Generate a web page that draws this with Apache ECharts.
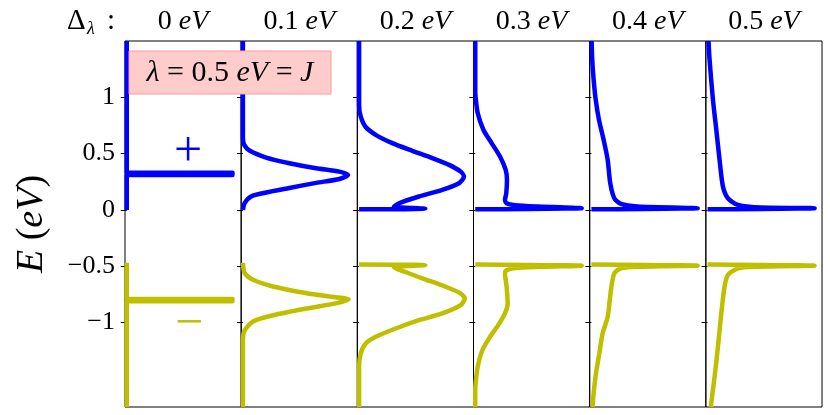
<!DOCTYPE html>
<html lang="en">
<head>
    <meta charset="UTF-8">
    <script src="https://cdn.jsdelivr.net/npm/echarts@6/dist/echarts.min.js"></script>
    <title>DOS vs Delta</title>
</head>
<body style="margin:0">
    <div id="main" style="width:830px;height:415px;"></div>
    <script>
        // panel titles (Delta_lambda in eV) and energy ticks
        var deltas = ['0', '0.1', '0.2', '0.3', '0.4', '0.5'];
        var yTicks = [-1, -0.5, 0, 0.5, 1];

        // points are [density, E]; upper band (blue) and lower band (yellow), one per panel
        var upper0 = [[0, 1.5], [0, 0.33], [0.91, 0.33], [0.91, 0.31], [0, 0.31], [0, 0]];
        var lower0 = [[0, -0.47], [0, -0.79], [0.91, -0.79], [0.91, -0.81], [0, -0.81], [0, -1.75]];

        var upper1 = [[0, 1.5], [0, 0.64], [0.01, 0.58], [0.06, 0.525], [0.2, 0.465], [0.4, 0.415], [0.63, 0.37], [0.83, 0.34],
            [0.905, 0.31], [0.83, 0.275], [0.63, 0.24], [0.4, 0.195], [0.2, 0.155], [0.07, 0.12], [0.015, 0.06], [0, 0]];
        var lower1 = [[0, -0.47], [0.015, -0.56], [0.087, -0.62], [0.26, -0.68], [0.55, -0.74], [0.8, -0.775], [0.91, -0.795],
            [0.8, -0.83], [0.55, -0.875], [0.26, -0.935], [0.087, -0.99], [0.015, -1.07], [0, -1.16], [0, -1.75]];

        var upper2 = [[0, 1.5], [0, 0.93], [0.014, 0.83], [0.057, 0.736], [0.143, 0.667], [0.286, 0.593], [0.458, 0.525],
            [0.63, 0.46], [0.774, 0.4], [0.874, 0.341], [0.903, 0.296], [0.86, 0.237], [0.716, 0.178], [0.516, 0.119],
            [0.344, 0.059], [0.3, 0.03], [0.57, 0.012], [0, 0.005]];
        var lower2 = [[0, -0.485], [0.57, -0.49], [0.3, -0.51], [0.42, -0.56], [0.545, -0.608], [0.745, -0.682], [0.874, -0.741],
            [0.91, -0.786], [0.874, -0.845], [0.716, -0.919], [0.516, -0.979], [0.315, -1.053], [0.143, -1.127],
            [0.057, -1.186], [0.014, -1.275], [0, -1.39], [0, -1.75]];

        var upper3 = [[0, 1.5], [0, 1.05], [0.003, 1.0], [0.021, 0.86], [0.07, 0.712], [0.141, 0.593], [0.213, 0.474],
            [0.262, 0.356], [0.273, 0.267], [0.267, 0.148], [0.256, 0.089], [0.27, 0.059], [0.342, 0.042], [0.543, 0.03],
            [0.916, 0.015], [0, 0.005]];
        var lower3 = [[0, -0.485], [0.916, -0.495], [0.543, -0.505], [0.342, -0.515], [0.27, -0.535], [0.256, -0.563],
            [0.27, -0.682], [0.279, -0.83], [0.256, -0.919], [0.198, -1.023], [0.127, -1.127], [0.061, -1.246],
            [0.021, -1.394], [0.003, -1.542], [0, -1.6], [0, -1.75]];

        var upper4 = [[0.002, 1.5], [0.007, 1.334], [0.019, 1.157], [0.037, 0.979], [0.065, 0.8], [0.105, 0.623], [0.14, 0.445],
            [0.162, 0.237], [0.197, 0.104], [0.254, 0.053], [0.398, 0.03], [0.914, 0.015], [0, 0.005]];
        var lower4 = [[0, -0.485], [0.914, -0.495], [0.4, -0.505], [0.254, -0.519], [0.197, -0.563], [0.168, -0.712],
            [0.14, -0.949], [0.096, -1.097], [0.068, -1.275], [0.039, -1.453], [0.019, -1.631], [0.01, -1.75]];

        var upper5 = [[0.008, 1.5], [0.017, 1.334], [0.046, 0.979], [0.075, 0.712], [0.103, 0.445], [0.132, 0.208],
            [0.175, 0.104], [0.261, 0.044], [0.404, 0.024], [0.921, 0.015], [0, 0.005]];
        var lower5 = [[0, -0.485], [0.92, -0.495], [0.404, -0.505], [0.261, -0.519], [0.175, -0.578], [0.146, -0.682],
            [0.118, -0.919], [0.089, -1.216], [0.06, -1.483], [0.031, -1.72], [0.028, -1.75]];

        var uppers = [upper0, upper1, upper2, upper3, upper4, upper5];
        var lowers = [lower0, lower1, lower2, lower3, lower4, lower5];

        var serif = 'Liberation Serif';
        var left0 = 125, panelW = 116.17, top0 = 41, panelH = 366;

        var grids = [], xAxes = [], yAxes = [], series = [], graphics = [];
        for (var i = 0; i < 6; i++) {
            grids.push({
                left: left0 + i * panelW, top: top0, width: panelW, height: panelH,
                show: true, borderColor: '#000', borderWidth: 1, backgroundColor: 'transparent'
            });
            xAxes.push({
                gridIndex: i, type: 'value', min: -0.015, max: 0.985,
                axisLine: { show: false }, axisTick: { show: false }, axisLabel: { show: false }, splitLine: { show: false }
            });
            yAxes.push({
                gridIndex: i, type: 'value', min: -1.75, max: 1.5,
                axisLine: { show: false },
                axisTick: { show: true, inside: false, length: 6, customValues: yTicks, lineStyle: { color: '#000', width: 1 } },
                axisLabel: {
                    show: i === 0, customValues: yTicks, margin: 10, color: '#000', fontFamily: serif, fontSize: 26,
                    formatter: function (v) { return String(v).replace('-', '\u2212'); }
                },
                splitLine: { show: false },
                name: i === 0 ? '{e|E}{n| (}{e|eV}{n|)}' : '',
                nameLocation: 'middle', nameRotate: 90, nameGap: 74,
                nameTextStyle: {
                    fontFamily: serif, fontSize: 38, color: '#000',
                    rich: {
                        e: { fontFamily: serif, fontSize: 38, fontStyle: 'italic', color: '#000' },
                        n: { fontFamily: serif, fontSize: 38, color: '#000' }
                    }
                }
            });
            var smooth = i === 0 ? false : 0.25;
            series.push({
                type: 'line', xAxisIndex: i, yAxisIndex: i, data: uppers[i], showSymbol: false, clip: true, smooth: smooth,
                lineStyle: { color: '#0000ff', width: 4.5, cap: 'butt', join: 'round' }, itemStyle: { color: '#0000ff' }
            });
            series.push({
                type: 'line', xAxisIndex: i, yAxisIndex: i, data: lowers[i], showSymbol: false, clip: true, smooth: smooth,
                lineStyle: { color: '#bfbf00', width: 4.5, cap: 'butt', join: 'round' }, itemStyle: { color: '#bfbf00' }
            });
            graphics.push({
                type: 'text', x: left0 + (i + 0.5) * panelW, y: 22,
                style: {
                    text: '{n|' + deltas[i] + ' }{e|eV}', align: 'center', verticalAlign: 'middle',
                    rich: {
                        n: { fontFamily: serif, fontSize: 28, fill: '#000' },
                        e: { fontFamily: serif, fontSize: 28, fontStyle: 'italic', fill: '#000' }
                    }
                }
            });
        }

        // Delta_lambda :
        graphics.push({ type: 'text', x: 67, y: 7, style: { text: '\u0394', fontFamily: serif, fontSize: 29, fill: '#000' } });
        graphics.push({ type: 'text', x: 87, y: 20, style: { text: '\u03bb', fontFamily: serif, fontSize: 18, fontStyle: 'italic', fill: '#000' } });
        graphics.push({ type: 'text', x: 107, y: 7, style: { text: ':', fontFamily: serif, fontSize: 29, fill: '#000' } });

        // lambda box
        graphics.push({
            type: 'rect', z: 100, shape: { x: 129, y: 51, width: 202, height: 43 },
            style: { fill: '#ffcccc', stroke: '#ff9a9a', lineWidth: 1 }
        });
        graphics.push({
            type: 'text', z: 101, x: 230, y: 73,
            style: {
                text: '{i|\u03bb}{n| = 0.5 }{i|eV}{n| = }{i|J}', align: 'center', verticalAlign: 'middle',
                rich: {
                    i: { fontFamily: serif, fontSize: 30, fontStyle: 'italic', fill: '#000' },
                    n: { fontFamily: serif, fontSize: 30, fill: '#000' }
                }
            }
        });

        // band signs
        graphics.push({ type: 'text', x: 188, y: 153, style: { text: '+', fontFamily: serif, fontSize: 50, fill: '#0000ff', align: 'center', verticalAlign: 'middle' } });
        graphics.push({ type: 'text', x: 189, y: 325, style: { text: '\u2212', fontFamily: serif, fontSize: 50, fill: '#bfbf00', align: 'center', verticalAlign: 'middle' } });

        var myChart = echarts.init(document.getElementById('main'));
        myChart.setOption({
            animation: false,
            backgroundColor: '#fff',
            grid: grids,
            xAxis: xAxes,
            yAxis: yAxes,
            series: series,
            graphic: graphics
        });
    </script>
</body>
</html>
